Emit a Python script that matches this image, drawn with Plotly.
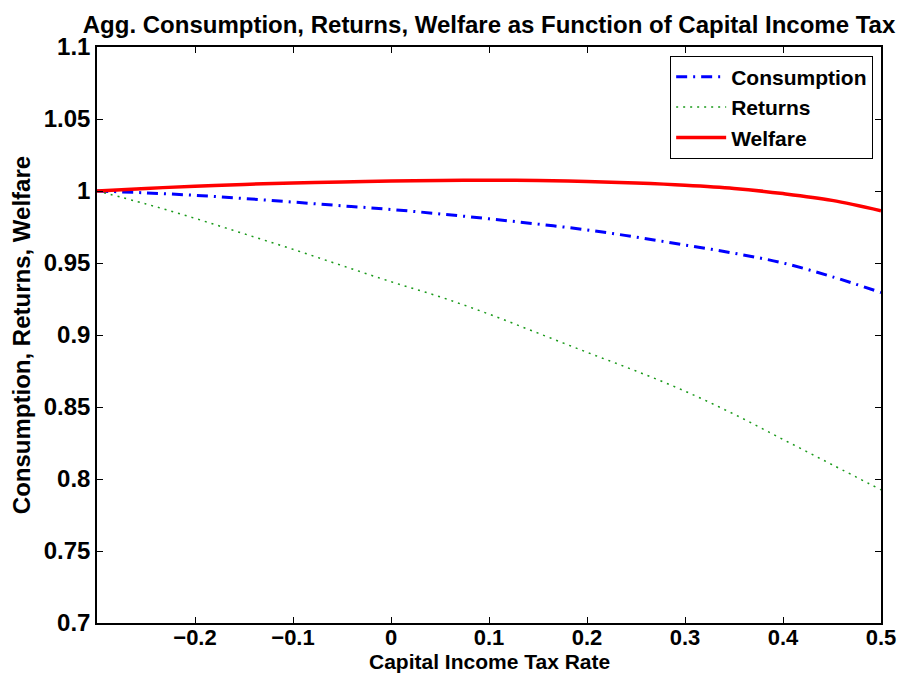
import plotly.graph_objects as go

tax_rate = [-0.3, -0.25, -0.2, -0.15, -0.1, -0.05, 0.0, 0.05, 0.1, 0.15, 0.2, 0.25, 0.3, 0.35, 0.4, 0.45, 0.5]
consumption = [1.0, 0.9987, 0.9970, 0.9948, 0.9923, 0.9897, 0.9872, 0.9841, 0.9807, 0.9770, 0.9730, 0.9680, 0.9625, 0.9568, 0.9500, 0.9405, 0.9295]
returns = [1.0, 0.9910, 0.9810, 0.9703, 0.9595, 0.9482, 0.9370, 0.9265, 0.9145, 0.9013, 0.8880, 0.8750, 0.8610, 0.8450, 0.8275, 0.8100, 0.7925]
welfare = [1.0, 1.0018, 1.0033, 1.0046, 1.0056, 1.0063, 1.0069, 1.0073, 1.0075, 1.0073, 1.0066, 1.0055, 1.0040, 1.0018, 0.9982, 0.9935, 0.9863]

x_tickvals = [-0.2, -0.1, 0.0, 0.1, 0.2, 0.3, 0.4, 0.5]
x_ticktext = ["\u22120.2", "\u22120.1", "0", "0.1", "0.2", "0.3", "0.4", "0.5"]
y_tickvals = [0.7, 0.75, 0.8, 0.85, 0.9, 0.95, 1.0, 1.05, 1.1]
y_ticktext = ["0.7", "0.75", "0.8", "0.85", "0.9", "0.95", "1", "1.05", "1.1"]

FONT = "Liberation Sans, Arial, Helvetica, sans-serif"
PLOT_H = 673 - 47 - 50

fig = go.Figure()
fig.add_trace(go.Scatter(x=tax_rate, y=consumption, name="Consumption", mode="lines",
                         line=dict(color="#0000ff", width=3, dash="11px,6px,2px,6px", shape="spline")))
fig.add_trace(go.Scatter(x=tax_rate, y=returns, name="Returns", mode="lines",
                         line=dict(color="#1a9a1a", width=1.5, dash="2px,5px", shape="spline")))
fig.add_trace(go.Scatter(x=tax_rate, y=welfare, name="Welfare", mode="lines",
                         line=dict(color="#ff0000", width=3.5, shape="spline")))

axis_common = dict(showline=True, linecolor="black", linewidth=1.5, mirror="ticks",
                   ticks="inside", ticklen=6, tickcolor="black", showgrid=False, zeroline=False,
                   automargin=False)

fig.update_xaxes(range=[-0.3, 0.5], tickvals=x_tickvals, ticktext=x_ticktext,
                 ticklabelstandoff=-6,
                 tickfont=dict(family=FONT, size=22, color="black", weight="bold"),
                 **axis_common)
fig.update_yaxes(range=[0.7, 1.1], tickvals=y_tickvals, ticktext=y_ticktext,
                 tickfont=dict(family=FONT, size=24, color="black", weight="bold"),
                 title=dict(text="<b>Consumption, Returns, Welfare</b>", standoff=6,
                            font=dict(family=FONT, size=24, color="black")),
                 **axis_common)

fig.add_annotation(text="<b>Capital Income Tax Rate</b>", xref="paper", yref="paper",
                   x=0.5, y=-(661.5 - 623) / PLOT_H, xanchor="center", yanchor="middle",
                   showarrow=False, font=dict(family=FONT, size=21, color="black"))

fig.update_layout(
    width=912, height=673,
    margin=dict(l=97, r=31, t=47, b=50),
    paper_bgcolor="white", plot_bgcolor="white",
    title=dict(text="<b>Agg. Consumption, Returns, Welfare as Function of Capital Income Tax</b>",
               x=0.5, xref="paper", xanchor="center", y=1 - 25 / 673, yanchor="middle",
               font=dict(family=FONT, size=24, color="black")),
    legend=dict(x=0.99, y=0.985, xanchor="right", yanchor="top",
                bordercolor="black", borderwidth=1, bgcolor="white",
                font=dict(family=FONT, size=21, color="black", weight="bold"),
                tracegroupgap=0, itemwidth=50),
    showlegend=True,
)

fig.write_html("out.html", config={"displayModeBar": False},
               post_script="document.body.style.margin='0';")
